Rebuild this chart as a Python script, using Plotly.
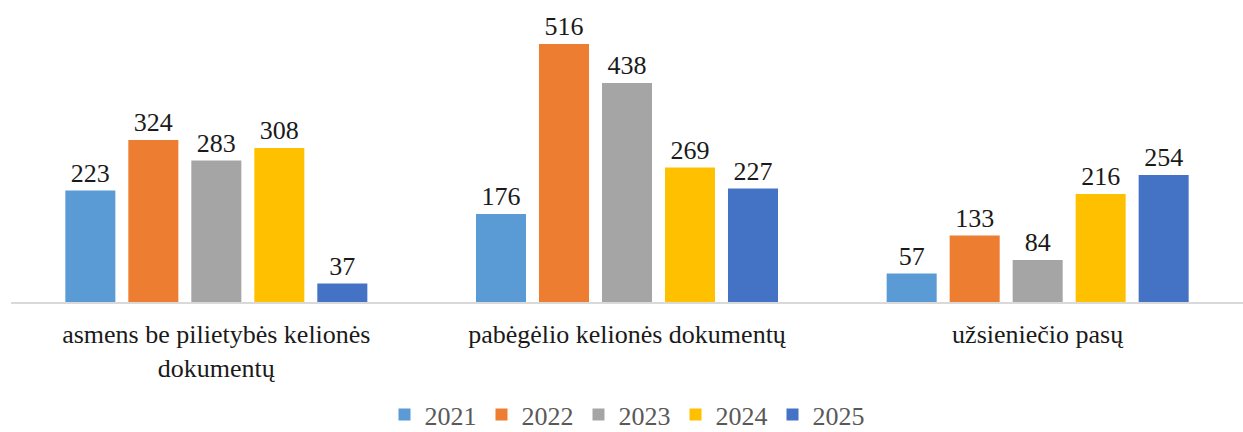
import plotly.graph_objects as go

categories = ["asmens be pilietybės kelionės<br>dokumentų", "pabėgėlio kelionės dokumentų", "užsieniečio pasų"]
years = ["2021", "2022", "2023", "2024", "2025"]
v2021 = [223, 176, 57]
v2022 = [324, 516, 133]
v2023 = [283, 438, 84]
v2024 = [308, 269, 216]
v2025 = [37, 227, 254]
series = [v2021, v2022, v2023, v2024, v2025]
colors = ["#5B9BD5", "#ED7D31", "#A5A5A5", "#FFC000", "#4472C4"]

font_fam = "Times New Roman"

fig = go.Figure()
for y, vals, c in zip(years, series, colors):
    fig.add_trace(go.Bar(
        x=categories, y=vals, name=y, marker=dict(color=c, line=dict(width=0)),
        text=[str(v) for v in vals], textposition="outside", cliponaxis=False,
        textfont=dict(family=font_fam, size=26, color="#1a1a1a"),
    ))

fig.update_layout(
    width=1243, height=432,
    margin=dict(l=11, r=0, t=2, b=130, autoexpand=False),
    paper_bgcolor="white", plot_bgcolor="white",
    barmode="group", bargap=0.233, bargroupgap=0.206,
    font=dict(family=font_fam, size=26, color="#1a1a1a"),
    showlegend=True,
    legend=dict(orientation="h", x=0.5, xanchor="center", y=-0.375, yanchor="middle",
                font=dict(family=font_fam, size=26, color="#595959"),
                itemwidth=30, traceorder="normal"),
    xaxis=dict(showline=True, linecolor="#d9d9d9", linewidth=1.5, ticks="", automargin=False,
               ticklabelstandoff=8,
               tickfont=dict(family=font_fam, size=26, color="#1a1a1a")),
    yaxis=dict(range=[0, 600], showgrid=False, showticklabels=False, zeroline=False, showline=False,
               automargin=False),
)

fig.write_html("out.html", config={"displayModeBar": False},
               post_script="document.body.style.margin='0';document.body.style.overflow='hidden';")
